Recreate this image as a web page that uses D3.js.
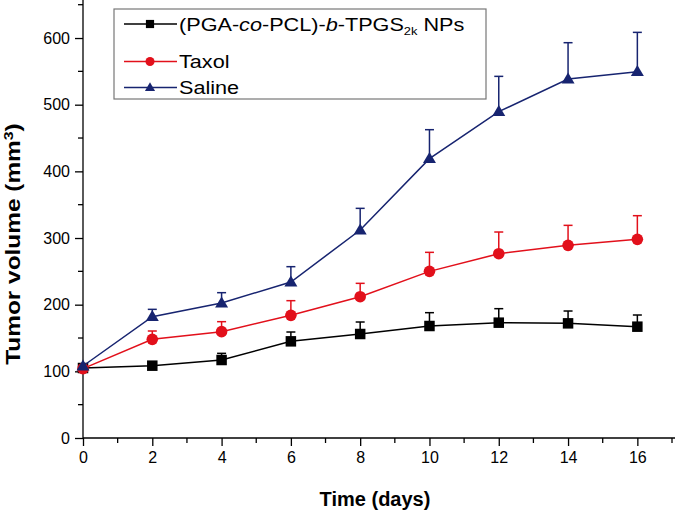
<!DOCTYPE html>
<html><head><meta charset="utf-8">
<script src="https://cdn.jsdelivr.net/npm/d3@7"></script>
<style>body{margin:0;background:#fff}svg{display:block;font-family:Arial,"Liberation Sans",sans-serif}</style>
</head><body><svg id="c" width="675" height="511"></svg>
<script>
const days = [0, 2, 4, 6, 8, 10, 12, 14, 16];
const npValues = [105, 108.5, 117, 145, 156, 168, 173, 172, 167];
const npErrors = [0, 3, 10, 14, 18, 20, 21, 18.5, 17.5];
const taxolValues = [104, 148, 159.5, 184, 212, 250, 276.5, 289, 298];
const taxolErrors = [0, 12.5, 15, 22, 20, 28.5, 32.5, 30, 35.5];
const salineValues = [108, 182, 202.5, 234, 312, 419, 489.5, 538.5, 549.5];
const salineErrors = [0, 11, 15.5, 23, 32.5, 43.5, 53, 54.5, 59];
const xTicks = [0, 2, 4, 6, 8, 10, 12, 14, 16];
const yTicks = [0, 100, 200, 300, 400, 500, 600];

const series = [
  {name: "np", values: npValues, errors: npErrors, color: "#000000", shape: "square"},
  {name: "Taxol", values: taxolValues, errors: taxolErrors, color: "#e2101b", shape: "circle"},
  {name: "Saline", values: salineValues, errors: salineErrors, color: "#172470", shape: "triangle"}
];

const svg = d3.select("#c");
const x = d3.scaleLinear().domain([0, 17]).range([83, 672]);
const y = d3.scaleLinear().domain([0, 650]).range([438, 4.7]);
const FONT = "Arial, 'Liberation Sans', sans-serif";

// axes
const xAxis = d3.axisBottom(x).tickValues(xTicks).tickSize(8).tickPadding(6).tickSizeOuter(0);
const gx = svg.append("g").attr("transform", "translate(0,438)").call(xAxis);
gx.select(".domain").attr("d", `M${x(0)},0H675`);
const yAxis = d3.axisLeft(y).tickValues(yTicks).tickSize(8).tickPadding(5).tickSizeOuter(0);
const gy = svg.append("g").attr("transform", "translate(83,0)").call(yAxis);
gy.select(".domain").attr("d", `M0,${y(0)}V0`);
[gx, gy].forEach(g => {
  g.selectAll("text").attr("font-size", 16).attr("fill", "#000").attr("font-family", FONT);
  g.selectAll("line,path").attr("stroke", "#000").attr("stroke-width", 1.3);
});
// minor ticks
svg.append("g").selectAll("line").data(d3.range(1, 18, 2)).join("line")
  .attr("x1", d => x(d)).attr("x2", d => x(d)).attr("y1", 438).attr("y2", 443)
  .attr("stroke", "#000").attr("stroke-width", 1.3);
svg.append("g").selectAll("line").data(d3.range(50, 651, 100)).join("line")
  .attr("x1", 83).attr("x2", 78).attr("y1", d => y(d)).attr("y2", d => y(d))
  .attr("stroke", "#000").attr("stroke-width", 1.3);

// axis titles
svg.append("text").attr("x", 375).attr("y", 506).attr("text-anchor", "middle")
  .attr("font-size", 20).attr("font-weight", "bold").text("Time (days)");
const yt = svg.append("text").attr("transform", "translate(20,244) rotate(-90) scale(1.22,1)").attr("text-anchor", "middle")
  .attr("font-size", 20).attr("font-weight", "bold");
yt.append("tspan").text("Tumor volume (mm");
yt.append("tspan").attr("dy", -7).attr("font-size", 13).text("3");
yt.append("tspan").attr("dy", 7).text(")");

function drawMarker(g, shape, cx, cy, color, k) {
  if (shape === "square") {
    const s = 10.5 * k;
    g.append("rect").attr("x", cx - s / 2).attr("y", cy - s / 2).attr("width", s).attr("height", s).attr("fill", color);
  } else if (shape === "circle") {
    g.append("circle").attr("cx", cx).attr("cy", cy).attr("r", 5.8 * k).attr("fill", color);
  } else {
    const w = 6.5 * k, h = 11 * k;
    g.append("path").attr("d", `M${cx},${cy - h * 0.6}L${cx + w},${cy + h * 0.4}L${cx - w},${cy + h * 0.4}Z`).attr("fill", color);
  }
}

const line = d3.line().x(d => x(d[0])).y(d => y(d[1]));
series.forEach(s => {
  const g = svg.append("g");
  const pts = days.map((d, i) => [d, s.values[i], s.errors[i]]);
  pts.forEach(p => {
    if (p[2] <= 0) return;
    g.append("line").attr("x1", x(p[0])).attr("x2", x(p[0])).attr("y1", y(p[1])).attr("y2", y(p[1] + p[2]))
      .attr("stroke", s.color).attr("stroke-width", 1.5);
    g.append("line").attr("x1", x(p[0]) - 4.5).attr("x2", x(p[0]) + 4.5).attr("y1", y(p[1] + p[2])).attr("y2", y(p[1] + p[2]))
      .attr("stroke", s.color).attr("stroke-width", 1.5);
  });
  g.append("path").datum(pts).attr("d", line).attr("fill", "none").attr("stroke", s.color).attr("stroke-width", 1.5);
  pts.forEach(p => drawMarker(g, s.shape, x(p[0]), y(p[1]), s.color, 1));
});

// legend
const lg = svg.append("g");
lg.append("rect").attr("x", 114).attr("y", 9).attr("width", 372).attr("height", 90)
  .attr("fill", "#fff").attr("stroke", "#777").attr("stroke-width", 1.2);
const rows = [24, 61.5, 87.5];
series.forEach((s, i) => {
  lg.append("line").attr("x1", 124).attr("x2", 177).attr("y1", rows[i]).attr("y2", rows[i])
    .attr("stroke", s.color).attr("stroke-width", 1.5);
  drawMarker(lg, s.shape, 150, rows[i], s.color, 0.78);
});
const legendText = (row) => lg.append("text").attr("transform", `translate(179,${rows[row] + 6.5}) scale(1.17,1)`).attr("font-size", 18.5);
const t0 = legendText(0);
t0.append("tspan").text("(PGA-");
t0.append("tspan").attr("font-style", "italic").text("co");
t0.append("tspan").text("-PCL)-");
t0.append("tspan").attr("font-style", "italic").text("b");
t0.append("tspan").text("-TPGS");
t0.append("tspan").attr("font-size", 11).attr("dy", 4).text("2k");
t0.append("tspan").attr("dy", -4).text(" NPs");
legendText(1).text("Taxol");
legendText(2).text("Saline");
</script></body></html>
